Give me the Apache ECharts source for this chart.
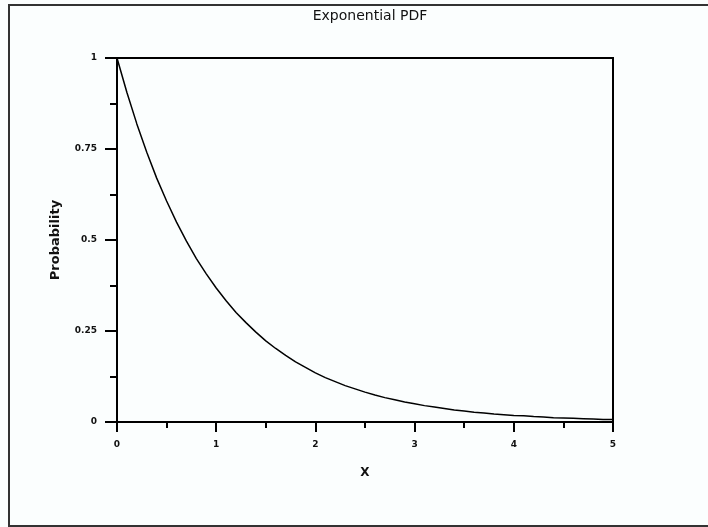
<!DOCTYPE html>
<html>
<head>
<meta charset="utf-8">
<script src="https://cdn.jsdelivr.net/npm/echarts@6/dist/echarts.min.js"></script>
<style>
  html, body { margin: 0; padding: 0; background: #fbfefe; }
  #main { width: 708px; height: 527px; }
</style>
</head>
<body>
<div id="main"></div>
<script>
// x values and the density
const xs = [0, 0.1, 0.2, 0.3, 0.4, 0.5, 0.6, 0.7, 0.8, 0.9,
            1, 1.1, 1.2, 1.3, 1.4, 1.5, 1.6, 1.7, 1.8, 1.9,
            2, 2.1, 2.2, 2.3, 2.4, 2.5, 2.6, 2.7, 2.8, 2.9,
            3, 3.1, 3.2, 3.3, 3.4, 3.5, 3.6, 3.7, 3.8, 3.9,
            4, 4.1, 4.2, 4.3, 4.4, 4.5, 4.6, 4.7, 4.8, 4.9, 5]
const probs = [1.000, 0.905, 0.819, 0.741, 0.670, 0.607, 0.549, 0.497, 0.449, 0.407,
               0.368, 0.333, 0.301, 0.273, 0.247, 0.223, 0.202, 0.183, 0.165, 0.150,
               0.135, 0.122, 0.111, 0.100, 0.091, 0.082, 0.074, 0.067, 0.061, 0.055,
               0.050, 0.045, 0.041, 0.037, 0.033, 0.030, 0.027, 0.025, 0.022, 0.020,
               0.018, 0.017, 0.015, 0.014, 0.012, 0.011, 0.010, 0.009, 0.008, 0.007, 0.007]
const yTickLabels = {0: '0', 0.25: '0.25', 0.5: '0.5', 0.75: '0.75', 1: '1'}

let myChart = echarts.init(document.getElementById('main'))
let points = []
for (let i = 0; i < xs.length; i++) {
    points.push([xs[i], probs[i]])
}
let labelFont = {
    fontFamily: 'DejaVu Sans',
    fontSize: 9,
    fontWeight: 'bold',
    color: '#111'
}
let option = {
    backgroundColor: '#fbfefe',
    animation: false,
    title: {
        text: 'Exponential PDF',
        left: 365,
        top: 4,
        textAlign: 'center',
        textStyle: {
            fontFamily: 'DejaVu Sans',
            fontSize: 14,
            fontWeight: 'normal',
            color: '#111'
        }
    },
    graphic: [
        {
            type: 'polyline',
            shape: { points: [[720, 5], [9, 5], [9, 526], [720, 526]] },
            style: { stroke: '#333', lineWidth: 2, fill: null },
            silent: true
        }
    ],
    grid: {
        left: 117,
        right: 95,
        top: 58,
        bottom: 105,
        show: true,
        borderColor: '#000',
        borderWidth: 2,
        backgroundColor: 'transparent'
    },
    xAxis: {
        type: 'value',
        min: 0,
        max: 5,
        interval: 1,
        name: 'X',
        nameLocation: 'middle',
        nameGap: 45,
        nameTextStyle: {
            fontFamily: 'DejaVu Sans',
            fontSize: 12,
            fontWeight: 'bold',
            color: '#111'
        },
        axisLine: { show: true, lineStyle: { color: '#000', width: 2 } },
        axisTick: { show: true, length: 10, lineStyle: { color: '#000', width: 2 } },
        minorTick: { show: true, splitNumber: 2, length: 6, lineStyle: { color: '#000', width: 2 } },
        axisLabel: Object.assign({ margin: 18 }, labelFont),
        splitLine: { show: false }
    },
    yAxis: {
        type: 'value',
        min: 0,
        max: 1,
        interval: 0.25,
        name: 'Probability',
        nameLocation: 'middle',
        nameGap: 55,
        nameTextStyle: {
            fontFamily: 'DejaVu Sans',
            fontSize: 13,
            fontWeight: 'bold',
            color: '#111'
        },
        axisLine: { show: true, lineStyle: { color: '#000', width: 2 } },
        axisTick: { show: true, length: 12, lineStyle: { color: '#000', width: 2 } },
        minorTick: { show: true, splitNumber: 2, length: 7, lineStyle: { color: '#000', width: 2 } },
        axisLabel: Object.assign({
            margin: 20,
            formatter: function (v) { return yTickLabels[v] !== undefined ? yTickLabels[v] : '' }
        }, labelFont),
        splitLine: { show: false }
    },
    series: [
        {
            type: 'line',
            data: points,
            showSymbol: false,
            smooth: false,
            lineStyle: { color: '#000', width: 1.5 }
        }
    ]
}
myChart.setOption(option)
</script>
</body>
</html>
